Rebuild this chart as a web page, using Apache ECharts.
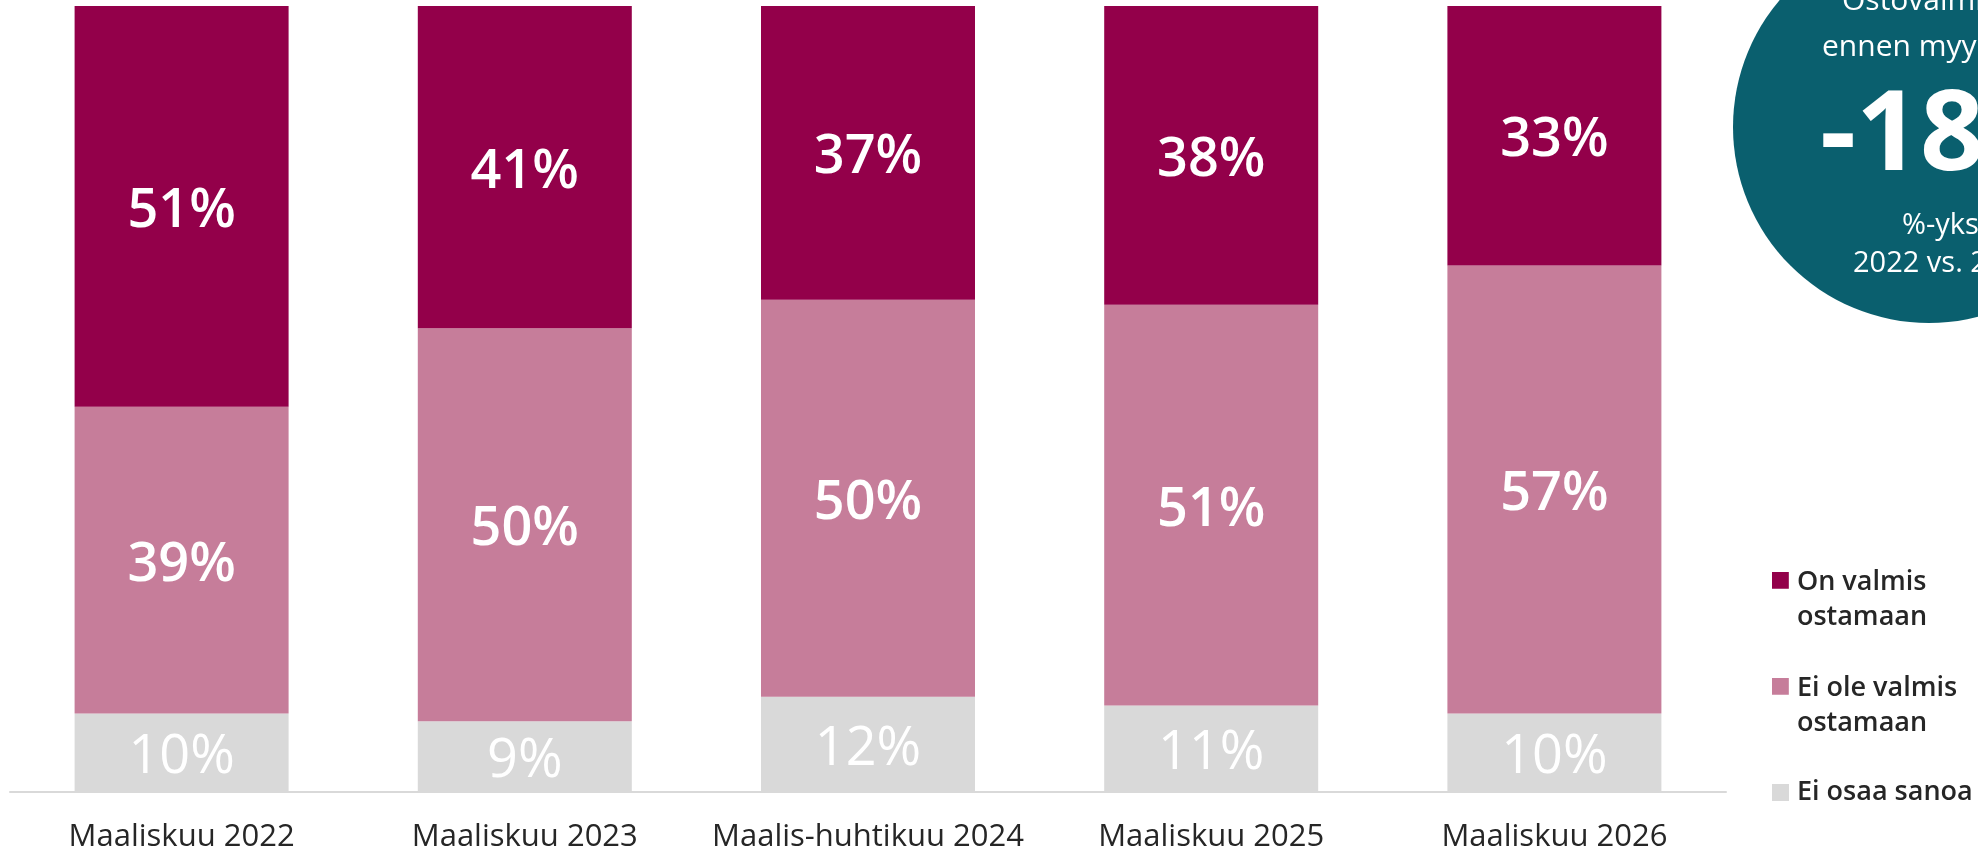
<!DOCTYPE html>
<html>
<head>
<meta charset="utf-8">
<script src="https://cdn.jsdelivr.net/npm/echarts@6/dist/echarts.min.js"></script>
<style>
  html, body { margin: 0; padding: 0; background: #fff; }
  #main { width: 1978px; height: 856px; }
</style>
</head>
<body>
<div id="main"></div>
<script>
// data
const categories = ['Maaliskuu 2022', 'Maaliskuu 2023', 'Maalis-huhtikuu 2024', 'Maaliskuu 2025', 'Maaliskuu 2026'];
const seriesNames = ['On valmis ostamaan', 'Ei ole valmis ostamaan', 'Ei osaa sanoa'];
const valmis = [51, 41, 37, 38, 33];
const eiValmis = [39, 50, 50, 51, 57];
const eiOsaa = [10, 9, 12, 11, 10];

const colors = ['#93004A', '#C67D9A', '#D9D9D9'];
const font = '"Open Sans", "Noto Sans", sans-serif';

// 100% stacked: each column scaled to its own total
const totals = categories.map((c, i) => valmis[i] + eiValmis[i] + eiOsaa[i]);
const pct = arr => arr.map((v, i) => ({ value: v / totals[i] * 100, raw: v }));

const legendText = {
  'On valmis ostamaan': 'On valmis\nostamaan',
  'Ei ole valmis ostamaan': 'Ei ole valmis\nostamaan',
  'Ei osaa sanoa': 'Ei osaa sanoa'
};
// square at the top of a taller box, so it lines up with the first text line
const tallSquare = 'path://M0,0H10V10H0Z M0,33.2H0.01V33.3H0Z';

function makeLegend(name, top, twoLines) {
  return {
    data: [{ name: name, icon: twoLines ? tallSquare : 'rect' }],
    left: 1772,
    top: top,
    padding: 0,
    itemWidth: 17,
    itemHeight: twoLines ? 56 : 17,
    itemGap: 10,
    selectedMode: false,
    formatter: n => legendText[n],
    textStyle: { fontFamily: font, fontSize: 27, fontWeight: 600, lineHeight: 35, color: '#262626', padding: [0, 0, 0, 3] }
  };
}

function barSeries(idx, data, bold) {
  return {
    name: seriesNames[idx],
    type: 'bar',
    stack: 'total',
    barWidth: 214,
    data: pct(data),
    itemStyle: { color: colors[idx] },
    label: {
      show: true,
      position: 'inside',
      offset: [0, 5],
      formatter: p => p.data.raw + '%',
      color: '#fff',
      fontFamily: font,
      fontSize: 54,
      fontWeight: bold ? 600 : 400
    },
    emphasis: { disabled: true }
  };
}

const myChart = echarts.init(document.getElementById('main'));
const option = {
  animation: false,
  grid: { left: 10, right: 252, top: 6, bottom: 64 },
  legend: [
    makeLegend(seriesNames[0], 565, true),
    makeLegend(seriesNames[1], 671, true),
    makeLegend(seriesNames[2], 775, false)
  ],
  xAxis: {
    type: 'category',
    data: categories,
    axisTick: { show: false },
    axisLine: { lineStyle: { color: '#D9D9D9', width: 2 } },
    axisLabel: { interval: 0, fontFamily: font, fontSize: 31, color: '#262626', margin: 30 }
  },
  yAxis: { type: 'value', min: 0, max: 100, show: false, splitLine: { show: false } },
  series: [
    barSeries(2, eiOsaa, false),
    barSeries(1, eiValmis, true),
    barSeries(0, valmis, true)
  ],
  graphic: [
    { type: 'circle', shape: { cx: 1929, cy: 127, r: 196 }, style: { fill: '#0A5F6E' }, silent: true },
    { type: 'text', x: 1842, y: 1, style: { text: 'Ostovalmius', fill: '#fff', font: '30px ' + font, verticalAlign: 'middle' } },
    { type: 'text', x: 1822, y: 47, style: { text: 'ennen myyntiä', fill: '#fff', font: '30px ' + font, verticalAlign: 'middle' } },
    { type: 'text', x: 1820, y: 138, style: { text: '-18', fill: '#fff', font: 'bold 112px ' + font, verticalAlign: 'middle' } },
    { type: 'text', x: 1902, y: 226, style: { text: '%-yks.', fill: '#fff', font: '29px ' + font, verticalAlign: 'middle' } },
    { type: 'text', x: 1853, y: 264, style: { text: '2022 vs. 2026', fill: '#fff', font: '29px ' + font, verticalAlign: 'middle' } }
  ]
};
myChart.setOption(option);
</script>
</body>
</html>
